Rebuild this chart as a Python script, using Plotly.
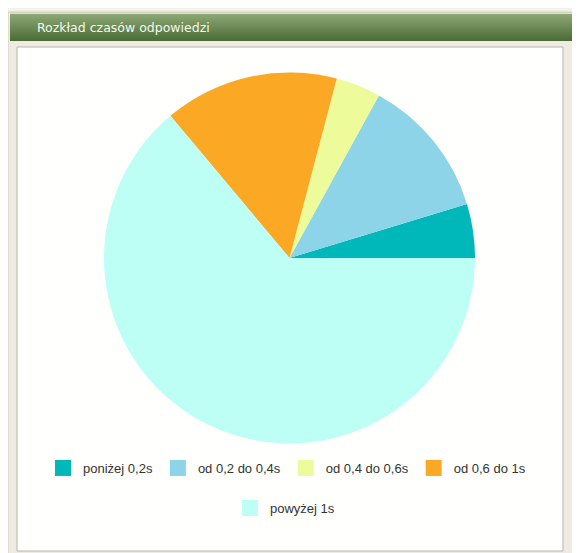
import plotly.graph_objects as go

# dane wykresu
etykiety = ["poniżej 0,2s", "od 0,2 do 0,4s", "od 0,4 do 0,6s", "od 0,6 do 1s", "powyżej 1s"]
udzialy = [4.7, 12.3, 3.9, 15.2, 63.9]
kolory = ["#00b8ba", "#8ed4e8", "#eefb9a", "#fba825", "#bdfff5"]

# strona ma 8px marginesu body, wiec rysunek jest mniejszy
OFF = 8
W, H = 580 - OFF, 553 - OFF


# piksele strony -> wspolrzedne paper
def px(x):
    return (x - OFF) / W


def py(y):
    return 1 - (y - OFF) / H


# pierwszy wycinek zaczyna sie na godzinie 3 i idzie w lewo
obrot = 90 - 360 * udzialy[0] / sum(udzialy)

fig = go.Figure()
fig.add_trace(go.Pie(
    labels=etykiety,
    values=udzialy,
    marker=dict(colors=kolory, line=dict(width=0)),
    sort=False,
    direction="counterclockwise",
    rotation=obrot,
    textinfo="none",
    showlegend=False,
    domain=dict(x=[px(104), px(475)], y=[py(443.5), py(72.5)]),
))

# legenda: 4 pozycje w pierwszym rzedzie, ostatnia w drugim
for i in range(len(etykiety)):
    fig.add_trace(go.Scatter(
        x=[None], y=[None], mode="markers", name=etykiety[i],
        marker=dict(symbol="square", size=18, color=kolory[i]),
        legend="legend" if i < 4 else "legend2", hoverinfo="skip",
    ))

shapes = []
# panel
shapes.append(dict(type="rect", xref="paper", yref="paper", x0=px(8), x1=px(590), y0=py(12), y1=py(560),
                   fillcolor="#efebe1", line=dict(color="#d6cebd", width=1), layer="below"))
# naglowek - gradient z paskow
top = (0x8c, 0xa8, 0x74)
bot = (0x4c, 0x6c, 0x38)
n = 27
for i in range(n):
    t = i / (n - 1)
    c = tuple(int(top[k] + (bot[k] - top[k]) * t) for k in range(3))
    shapes.append(dict(type="rect", xref="paper", yref="paper", x0=px(10), x1=px(590),
                       y0=py(14 + i), y1=py(15 + i), fillcolor="rgb(%d,%d,%d)" % c,
                       line=dict(width=0), layer="below"))
shapes.append(dict(type="line", xref="paper", yref="paper", x0=px(10), x1=px(590), y0=py(13), y1=py(13),
                   line=dict(color="#c9d3b6", width=1), layer="below"))
# biale pole
shapes.append(dict(type="rect", xref="paper", yref="paper", x0=px(17), x1=px(563), y0=py(47), y1=py(551),
                   fillcolor="#fffffe", line=dict(color="#b5b5b0", width=1), layer="below"))

font_leg = dict(family="Liberation Sans, Arial", size=13, color="#333333")
fig.update_layout(
    width=W, height=H,
    margin=dict(l=0, r=0, t=0, b=0),
    paper_bgcolor="#f4f1ea",
    plot_bgcolor="rgba(0,0,0,0)",
    xaxis=dict(visible=False),
    yaxis=dict(visible=False),
    shapes=shapes,
    legend=dict(orientation="h", x=px(287), xanchor="center", y=py(468), yanchor="middle",
                font=font_leg, bgcolor="rgba(0,0,0,0)"),
    legend2=dict(orientation="h", x=px(285), xanchor="center", y=py(508), yanchor="middle",
                 font=font_leg, bgcolor="rgba(0,0,0,0)"),
    annotations=[dict(text="Rozkład czasów odpowiedzi", xref="paper", yref="paper",
                      x=px(35), y=py(27), xanchor="left", yanchor="middle", showarrow=False,
                      font=dict(family="DejaVu Sans", size=12.5, color="#f6f8f0"))],
)

fig.write_html("out.html")
